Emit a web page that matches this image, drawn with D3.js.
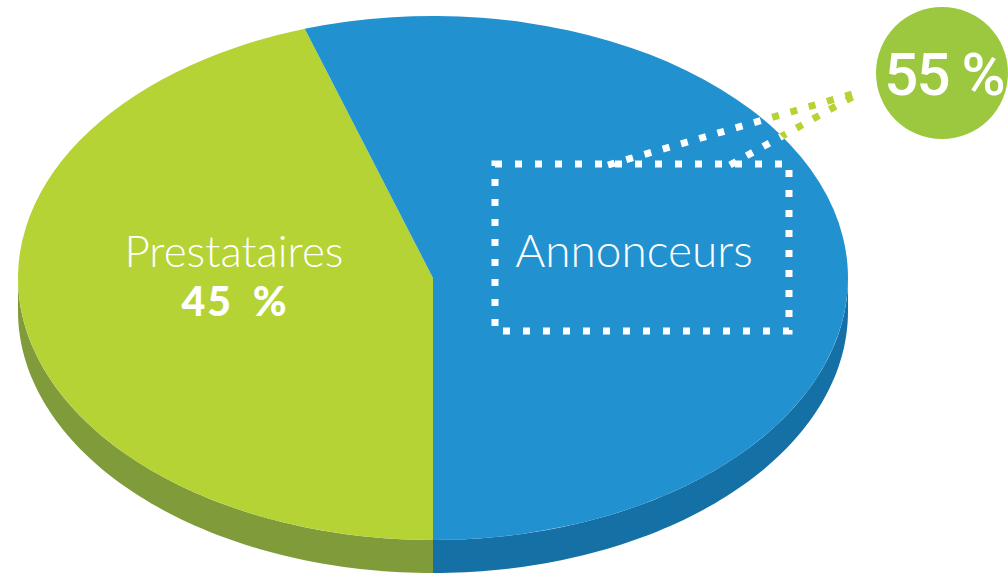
<!DOCTYPE html>
<html>
<head>
<meta charset="utf-8">
<script src="https://cdn.jsdelivr.net/npm/d3@7"></script>
<style>
  body { margin: 0; background: #fff; }
  svg { display: block; }
</style>
</head>
<body>
<svg id="chart" width="1008" height="573"></svg>
<script>
let categories = ["Prestataires", "Annonceurs"];
let values = [45, 55];
let topColors = ["#b5d334", "#2291d0"];
let sideColors = ["#7f9b3a", "#1570a6"];
let calloutColor = "#9bc83f";

let svg = d3.select("#chart");
let cx = 433, cy = 278, rx = 415, ry = 262, depth = 33;

let pie = d3.pie()
	.sort(null)
	.value(d => d)
	.startAngle(Math.PI)
	.endAngle(3 * Math.PI);
let slices = pie(values);

// point on the top ellipse, d3 angle convention (0 = top, clockwise)
function pt(a, dy) {
	return [cx + rx * Math.sin(a), cy + (dy || 0) - ry * Math.cos(a)];
}

// visible outer wall : only the front half (pi/2 .. 3pi/2)
function wall(a0, a1) {
	let parts = [];
	for (let k = -1; k <= 2; k++) {
		let lo = Math.max(a0, Math.PI / 2 + k * 2 * Math.PI);
		let hi = Math.min(a1, 3 * Math.PI / 2 + k * 2 * Math.PI);
		if (hi > lo) parts.push([lo, hi]);
	}
	let line = d3.line();
	return parts.map(([lo, hi]) => {
		let n = 80;
		let top = d3.range(n + 1).map(i => pt(lo + (hi - lo) * i / n));
		let bot = d3.range(n + 1).map(i => pt(hi - (hi - lo) * i / n, depth));
		return line(top.concat(bot)) + "Z";
	}).join("");
}

svg.selectAll("path.side")
	.data(slices)
	.enter().append("path")
	.attr("class", "side")
	.attr("d", d => wall(d.startAngle, d.endAngle))
	.attr("fill", (d, i) => sideColors[i]);

let arc = d3.arc().innerRadius(0).outerRadius(rx);
let topG = svg.append("g")
	.attr("transform", `translate(${cx},${cy}) scale(1,${ry / rx})`);
topG.selectAll("path")
	.data(slices)
	.enter().append("path")
	.attr("d", arc)
	.attr("fill", (d, i) => topColors[i]);

// clip for the white part of the dotted leader lines
svg.append("clipPath").attr("id", "inPie")
	.append("ellipse").attr("cx", cx).attr("cy", cy).attr("rx", rx).attr("ry", ry);
svg.append("clipPath").attr("id", "outPie")
	.append("path")
	.attr("d", `M0,0H1008V573H0Z M${cx - rx},${cy} a${rx},${ry} 0 1,0 ${2 * rx},0 a${rx},${ry} 0 1,0 ${-2 * rx},0Z`)
	.attr("clip-rule", "evenodd");

let leaders = [[[608, 165], [856, 93]], [[730, 165], [856, 95]]];
let lineGen = d3.line();
[["inPie", "#fff"], ["outPie", topColors[0]]].forEach(([clip, col]) => {
	svg.append("g").attr("clip-path", `url(#${clip})`)
		.selectAll("path")
		.data(leaders)
		.enter().append("path")
		.attr("d", d => lineGen(d))
		.attr("fill", "none")
		.attr("stroke", col)
		.attr("stroke-width", 7)
		.attr("stroke-dasharray", "7,12");
});

svg.append("rect")
	.attr("x", 495).attr("y", 164)
	.attr("width", 294).attr("height", 167)
	.attr("fill", "none")
	.attr("stroke", "#fff")
	.attr("stroke-width", 7)
	.attr("stroke-dasharray", "7,13");

// labels
svg.append("text")
	.attr("x", 234).attr("y", 267)
	.attr("text-anchor", "middle")
	.attr("font-family", "Lato")
	.attr("font-weight", 300)
	.attr("font-size", 44)
	.attr("fill", "#fff")
	.text(categories[0]);
svg.append("text")
	.attr("x", 235).attr("y", 316)
	.attr("text-anchor", "middle")
	.attr("font-family", "Lato")
	.attr("font-weight", 900)
	.attr("font-size", 41)
	.attr("letter-spacing", 2)
	.attr("word-spacing", 8)
	.attr("fill", "#fff")
	.text(values[0] + " %");
svg.append("text")
	.attr("x", 634).attr("y", 267)
	.attr("text-anchor", "middle")
	.attr("font-family", "Lato")
	.attr("font-weight", 300)
	.attr("font-size", 46)
	.attr("fill", "#fff")
	.text(categories[1]);

svg.append("circle")
	.attr("cx", 942).attr("cy", 73).attr("r", 66)
	.attr("fill", calloutColor);
svg.append("text")
	.attr("x", 944).attr("y", 95)
	.attr("text-anchor", "middle")
	.attr("font-family", "Roboto")
	.attr("font-weight", 500)
	.attr("font-size", 60)
	.attr("letter-spacing", -2)
	.attr("fill", "#fff")
	.text(values[1] + " %");
</script>
</body>
</html>
